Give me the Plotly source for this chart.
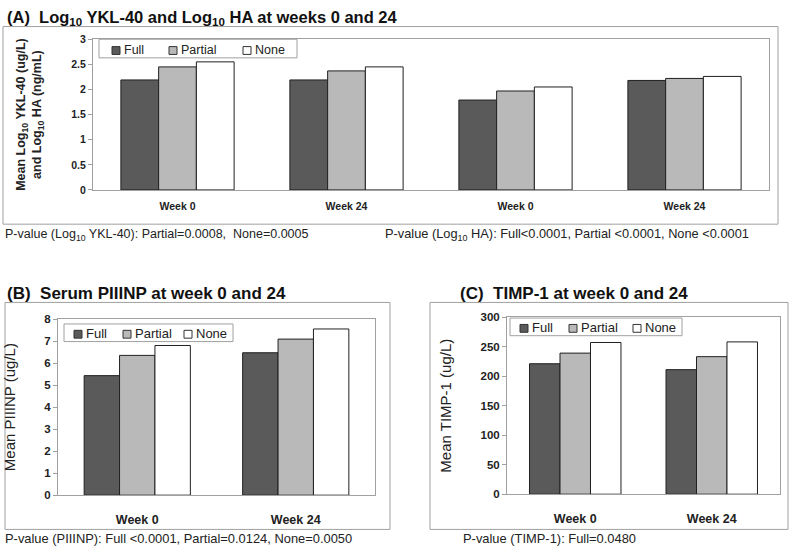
import plotly.graph_objects as go

series_names = ["Full", "Partial", "None"]
series_colors = ["#5a5a5a", "#b9b9b9", "#ffffff"]

# Panel A
cats_a = ["Week 0", "Week 24", "Week 0", "Week 24"]
full_a = [2.19, 2.19, 1.79, 2.18]
partial_a = [2.45, 2.37, 1.97, 2.22]
none_a = [2.55, 2.45, 2.05, 2.26]

# Panel B
cats_b = ["Week 0", "Week 24"]
full_b = [5.43, 6.47]
partial_b = [6.35, 7.09]
none_b = [6.80, 7.55]

# Panel C
cats_c = ["Week 0", "Week 24"]
full_c = [221, 211]
partial_c = [239, 233]
none_c = [257, 258]

W, H = 800, 554
FONT = "Liberation Sans, Arial, sans-serif"
GRAY = "#a0a0a0"

fig = go.Figure()

def px_x(v):
    return v / W

def px_y(v):
    return (H - v) / H

panels = [
    dict(ax="", cats=cats_a, vals=[full_a, partial_a, none_a],
         xdom=[px_x(93), px_x(769)], ydom=[px_y(188), px_y(34)], yrange=[0, 3],
         dtick=0.5, tickfs=10.5, xfs=10.5, xstand=6),
    dict(ax="2", cats=cats_b, vals=[full_b, partial_b, none_b],
         xdom=[px_x(58), px_x(375)], ydom=[px_y(500), px_y(320)], yrange=[0, 8],
         dtick=1, tickfs=11.5, xfs=12.5, xstand=13),
    dict(ax="3", cats=cats_c, vals=[full_c, partial_c, none_c],
         xdom=[px_x(507), px_x(780)], ydom=[px_y(499), px_y(318)], yrange=[0, 300],
         dtick=50, tickfs=11.5, xfs=12.5, xstand=13),
]

layout_axes = {}
for p in panels:
    xs = list(range(len(p["cats"])))
    for name, vals, col in zip(series_names, p["vals"], series_colors):
        fig.add_trace(go.Bar(
            x=xs, y=vals, name=name,
            marker=dict(color=col, line=dict(color="#202020", width=1)),
            xaxis="x" + p["ax"], yaxis="y" + p["ax"],
            showlegend=False,
        ))
    xkey = "xaxis" + p["ax"]
    ykey = "yaxis" + p["ax"]
    layout_axes[xkey] = dict(
        domain=p["xdom"], anchor="y" + p["ax"],
        tickmode="array", tickvals=xs, ticktext=p["cats"],
        range=[-0.5, len(xs) - 0.5],
        showline=True, linecolor=GRAY, linewidth=1, mirror=True,
        showgrid=False, zeroline=False, ticks="", ticklabelstandoff=p["xstand"],
        tickfont=dict(family=FONT, size=p["xfs"], color="#222", weight="bold"),
        fixedrange=True,
    )
    layout_axes[ykey] = dict(
        domain=p["ydom"], anchor="x" + p["ax"],
        range=p["yrange"], dtick=p["dtick"], tick0=0,
        showline=True, linecolor=GRAY, linewidth=1, mirror=True,
        showgrid=False, zeroline=False, ticks="outside", ticklen=4, tickcolor=GRAY,
        tickfont=dict(family=FONT, size=p["tickfs"], color="#222", weight="bold"),
        fixedrange=True,
    )

layout_axes["yaxis"]["title"] = dict(
    text="Mean Log<sub>10</sub> YKL-40 (ug/L)<br>and Log<sub>10</sub> HA (ng/mL)",
    font=dict(family=FONT, size=12.5, color="#222", weight="bold"), standoff=26)
layout_axes["yaxis2"]["title"] = dict(
    text="Mean PIIINP (ug/L)", font=dict(family=FONT, size=15, color="#222"), standoff=25)
layout_axes["yaxis3"]["title"] = dict(
    text="Mean TIMP-1 (ug/L)", font=dict(family=FONT, size=15, color="#222"), standoff=25)

fig.update_layout(
    width=W, height=H, margin=dict(l=0, r=0, t=0, b=0),
    paper_bgcolor="white", plot_bgcolor="white",
    barmode="group", bargap=0.33, bargroupgap=0,
    font=dict(family=FONT, color="#222"),
    showlegend=False,
    **layout_axes,
)

# legends: box (x0, y0, x1, y1), swatch left edges, swatch top/bottom, font size
legends = [
    dict(box=(99, 34, 297, 53), sw=[112, 169, 243], sy=(41.5, 49.5), ty=45, fs=12.5),
    dict(box=(64, 325, 233, 343), sw=[74, 123, 184], sy=(331.5, 339.5), ty=335, fs=13),
    dict(box=(510, 319, 682, 337), sw=[520, 569, 633], sy=(325.5, 333.5), ty=329, fs=13),
]
for lg in legends:
    x0, y0, x1, y1 = lg["box"]
    fig.add_shape(type="rect", xref="paper", yref="paper",
                  x0=px_x(x0), x1=px_x(x1), y0=px_y(y1), y1=px_y(y0),
                  line=dict(color=GRAY, width=1), fillcolor="white", layer="above")
    for name, col, sx in zip(series_names, series_colors, lg["sw"]):
        fig.add_shape(type="rect", xref="paper", yref="paper",
                      x0=px_x(sx), x1=px_x(sx + 8), y0=px_y(lg["sy"][1]), y1=px_y(lg["sy"][0]),
                      line=dict(color="#333", width=1), fillcolor=col, layer="above")
        fig.add_annotation(text=name, xref="paper", yref="paper",
                           x=px_x(sx + 10), y=px_y(lg["ty"]),
                           xanchor="left", yanchor="middle", showarrow=False,
                           font=dict(family=FONT, size=lg["fs"], color="#222"))

# outer boxes
boxes = [(3, 21, 778, 223), (5, 303, 390, 535), (430, 303, 788, 535)]
for x0, y0, x1, y1 in boxes:
    fig.add_shape(type="rect", xref="paper", yref="paper",
                  x0=px_x(x0), x1=px_x(x1), y0=px_y(y1), y1=px_y(y0),
                  line=dict(color=GRAY, width=1), layer="below")

titles = [
    ("(A)  Log<sub>10</sub> YKL-40 and Log<sub>10</sub> HA at weeks 0 and 24", 5, 12, 16.5),
    ("(B)  Serum PIIINP at week 0 and 24", 5, 294, 17),
    ("(C)  TIMP-1 at week 0 and 24", 458, 294, 17),
]
for text, x, y, fs in titles:
    fig.add_annotation(text=text, xref="paper", yref="paper", x=px_x(x), y=px_y(y),
                       xanchor="left", yanchor="middle", showarrow=False,
                       font=dict(family=FONT, size=fs, color="#111", weight="bold"))

notes = [
    ("P-value (Log<sub>10</sub> YKL-40): Partial=0.0008,  None=0.0005", 3, 234, 12.5),
    ("P-value (Log<sub>10</sub> HA): Full&lt;0.0001, Partial &lt;0.0001, None &lt;0.0001", 383, 234, 12.8),
    ("P-value (PIIINP): Full &lt;0.0001, Partial=0.0124, None=0.0050", 3, 544, 12.9),
    ("P-value (TIMP-1): Full=0.0480", 461, 544, 12.9),
]
for text, x, y, fs in notes:
    fig.add_annotation(text=text, xref="paper", yref="paper", x=px_x(x), y=px_y(y),
                       xanchor="left", yanchor="middle", showarrow=False,
                       font=dict(family=FONT, size=fs, color="#222"))

fig.write_html("out.html", config={"displayModeBar": False, "staticPlot": True},
               post_script="document.body.style.margin='0';document.body.style.overflow='hidden';")
